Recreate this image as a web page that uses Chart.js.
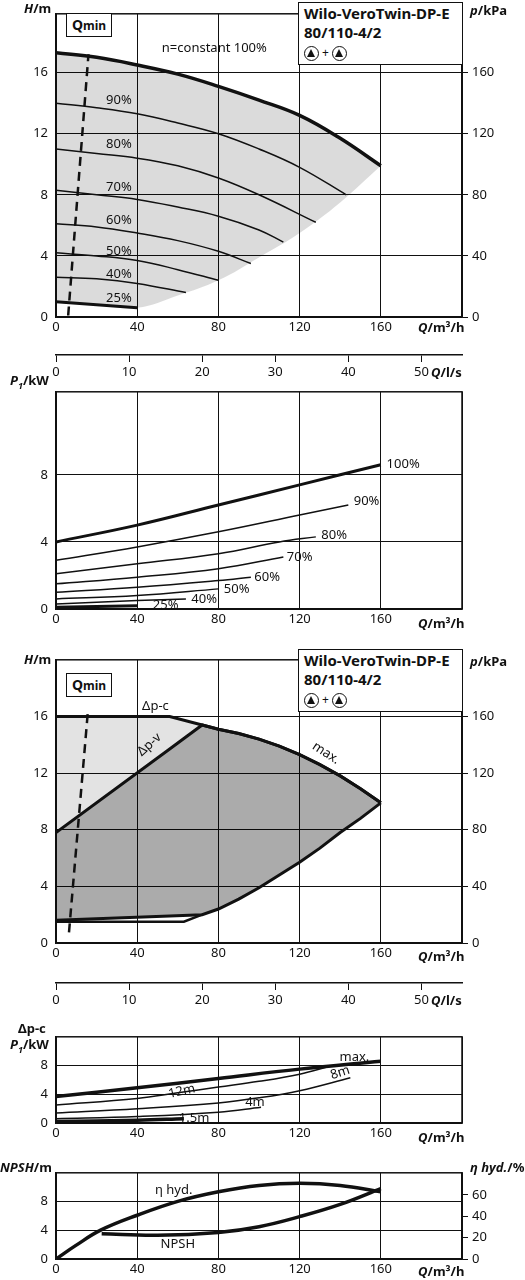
<!DOCTYPE html>
<html><head><meta charset="utf-8">
<script src="https://cdn.jsdelivr.net/npm/chart.js@4.4.1/dist/chart.umd.min.js"></script>
<style>
body{margin:0;width:525px;height:1280px;background:#fff;font-family:"Noto Sans",sans-serif;color:#111;position:relative;overflow:hidden}
canvas{position:absolute;left:0}
.t{position:absolute;font-size:13px;white-space:nowrap}
.b{font-weight:bold}
.box{position:absolute;background:#fff;border:1.5px solid #111;box-sizing:border-box}
.tb{left:298px;width:165px;height:63px;padding:1px 0 0 5px;font-weight:bold;font-size:15px;line-height:19px}
.q{width:46px;height:24px;font-size:14px;font-weight:bold;text-align:center;line-height:22px}
.ico{display:inline-block;width:13px;height:13px;border:1px solid #111;border-radius:50%;position:relative;vertical-align:middle}
.ico:after{content:"";position:absolute;left:2px;top:2px;border-left:4.5px solid transparent;border-right:4.5px solid transparent;border-bottom:8px solid #111}
</style></head><body>
<canvas id="c1" style="top:-2px" width="525" height="344"></canvas>
<canvas id="a1" style="top:340px" width="525" height="45"></canvas>
<canvas id="c2" style="top:376px" width="525" height="258"></canvas>
<canvas id="c3" style="top:644px" width="525" height="324"></canvas>
<canvas id="a2" style="top:968px" width="525" height="45"></canvas>
<canvas id="c4" style="top:1021px" width="525" height="127"></canvas>
<canvas id="c5" style="top:1157px" width="525" height="127"></canvas>

<div class="box tb" style="top:2px">Wilo-VeroTwin-DP-E<br>80/110-4/2<br><span style="font-size:12px;font-weight:normal"><span class="ico"></span> + <span class="ico"></span></span></div>
<div class="box q" style="left:66px;top:13px">Q<span style="font-size:12px">min</span></div>
<div class="box tb" style="top:649px">Wilo-VeroTwin-DP-E<br>80/110-4/2<br><span style="font-size:12px;font-weight:normal"><span class="ico"></span> + <span class="ico"></span></span></div>
<div class="box q" style="left:66px;top:673px">Q<span style="font-size:12px">min</span></div>

<div class="t b" style="left:24px;top:-1px"><i>H</i>/m</div>
<div class="t b" style="left:470px;top:1px"><i>p</i>/kPa</div>
<div class="t b" style="left:418px;top:318px"><i>Q</i>/m³/h</div>
<div class="t b" style="left:431px;top:363px"><i>Q</i>/l/s</div>
<div class="t b" style="left:10px;top:371px"><i>P<sub style="font-size:9px">1</sub></i>/kW</div>
<div class="t b" style="left:418px;top:614px"><i>Q</i>/m³/h</div>
<div class="t b" style="left:24px;top:650px"><i>H</i>/m</div>
<div class="t b" style="left:470px;top:652px"><i>p</i>/kPa</div>
<div class="t b" style="left:418px;top:947px"><i>Q</i>/m³/h</div>
<div class="t b" style="left:431px;top:991px"><i>Q</i>/l/s</div>
<div class="t b" style="left:18px;top:1019px">Δp-c</div>
<div class="t b" style="left:10px;top:1035px"><i>P<sub style="font-size:9px">1</sub></i>/kW</div>
<div class="t b" style="left:418px;top:1128px"><i>Q</i>/m³/h</div>
<div class="t b" style="left:0px;top:1158px"><i>NPSH</i>/m</div>
<div class="t b" style="left:470px;top:1158px"><i>η hyd.</i>/%</div>
<div class="t b" style="left:418px;top:1262px"><i>Q</i>/m³/h</div>

<script>
// ---------- DATA ----------
const qTicks = [0, 40, 80, 120, 160];
const h100 = [[0,17.3],[20,17.0],[40,16.5],[60,15.9],[80,15.1],[100,14.2],[120,13.2],[140,11.7],[160,9.9]];
const h90 = [[0,14.0],[20,13.7],[40,13.3],[60,12.7],[80,12.0],[100,11.0],[120,9.8],[143,8.0]];
const h80 = [[0,11.0],[20,10.7],[40,10.4],[60,9.9],[80,9.1],[100,8.0],[128,6.2]];
const h70 = [[0,8.3],[20,8.0],[40,7.7],[60,7.2],[80,6.6],[100,5.7],[112,4.9]];
const h60 = [[0,6.1],[20,5.9],[40,5.5],[60,5.0],[80,4.3],[96,3.5]];
const h50 = [[0,4.2],[20,4.0],[40,3.7],[60,3.1],[80,2.4]];
const h40 = [[0,2.6],[20,2.5],[40,2.2],[64,1.6]];
const h25 = [[0,1.0],[20,0.8],[40,0.6]];
const hEnvLow = [[0,1.0],[20,0.8],[40,0.6],[60,1.4],[80,2.4],[100,3.9],[120,5.5],[140,7.5],[160,9.9]];
const qmin1 = [[6,0.1],[16,17.2]];

const p100 = [[0,4.0],[40,5.0],[80,6.2],[120,7.4],[160,8.6]];
const p90 = [[0,2.9],[40,3.7],[80,4.6],[120,5.6],[144,6.2]];
const p80 = [[0,2.1],[40,2.7],[80,3.3],[110,4.0],[128,4.3]];
const p70 = [[0,1.5],[40,1.9],[80,2.4],[112,3.1]];
const p60 = [[0,1.0],[40,1.3],[80,1.7],[96,1.9]];
const p50 = [[0,0.6],[40,0.8],[80,1.2]];
const p40 = [[0,0.3],[40,0.5],[64,0.6]];
const p25 = [[0,0.1],[40,0.2]];

const hTop = [[0,16],[56,16],[72,15.4],[80,15.1],[90,14.8],[100,14.4],[110,13.9],[120,13.3],[130,12.6],[140,11.8],[150,10.9],[160,9.9]];
const hDpv = [[0,7.8],[56,13.7],[72,15.4],[80,15.1],[90,14.8],[100,14.4],[110,13.9],[120,13.3],[130,12.6],[140,11.8],[150,10.9],[160,9.9]];
const hLow = [[0,1.6],[56,1.9],[72,2.0],[80,2.4],[90,3.1],[100,3.9],[110,4.8],[120,5.7],[130,6.7],[140,7.8],[150,8.8],[160,9.9]];
const hMin = [[0,1.5],[63,1.5],[72,2.0]];
const qmin2 = [[6.4,0.75],[15.8,16.5]];

const dMax = [[0,3.7],[40,4.9],[80,6.2],[120,7.5],[160,8.6]];
const d12 = [[0,2.5],[40,3.4],[60,4.2],[80,5.0],[100,5.8],[120,6.8],[135,7.9]];
const d8 = [[0,1.4],[40,2.0],[80,2.8],[100,3.5],[120,4.5],[145,6.3]];
const d4 = [[0,0.6],[40,0.9],[80,1.5],[101,2.2]];
const d15 = [[0,0.2],[40,0.4],[63,0.6]];

const npsh = [[22.5,3.5],[50,3.3],[80,3.7],[100,4.5],[120,5.9],[140,7.6],[160,9.8]];
const eta = [[0,0],[10,13],[22,27],[40,41],[60,54],[80,63],[100,69],[120,71],[140,69],[160,63]];
const lsTicks = [0, 10, 20, 30, 40, 50];

// ---------- HELPERS ----------
const F = '"Noto Sans", sans-serif';
const pts = a => a.map(([x,y]) => ({x,y}));
function line(a, w, extra) { return Object.assign({data: pts(a), borderColor:'#111', borderWidth:w, pointRadius:0, tension:0.4, cubicInterpolationMode:'default', fill:false}, extra||{}); }
const frame = {id:'frame', afterDatasetsDraw(c){const a=c.chartArea,x=c.ctx;x.save();x.strokeStyle='#111';x.lineWidth=1.5;x.strokeRect(a.left,a.top,a.right-a.left,a.bottom-a.top);x.restore();}};
const txt = {id:'txt', afterDatasetsDraw(c, args, o){const x=c.ctx; (o.items||[]).forEach(it=>{const px=c.scales.x.getPixelForValue(it[1]), py=c.scales.y.getPixelForValue(it[2]); x.save(); x.translate(px,py); x.rotate((it[3]||0)*Math.PI/180); x.font='13px '+F; x.fillStyle='#111'; x.textAlign='center'; x.textBaseline='middle'; x.fillText(it[0],0,0); x.restore();});}};
function xScale(){ return {type:'linear', min:0, max:200, afterBuildTicks(s){s.ticks=qTicks.concat([200]).map(v=>({value:v}));}, afterFit(s){s.height=25;},
  ticks:{color:'#111', font:{size:13,family:F}, padding:2, callback:v=> v===200?'':v}, grid:{color:'#111', lineWidth:1, drawTicks:false}, border:{color:'#111',width:1.5}}; }
function yScale(max, ticks, pos, width){ return {type:'linear', position:pos||'left', min:0, max:max, afterBuildTicks(s){s.ticks=ticks.map(v=>({value:v}));}, afterFit(s){s.width=width||56;},
  ticks:{color:'#111', font:{size:13,family:F}, padding: pos==='right'?4:8}, grid: pos==='right'?{drawOnChartArea:false, color:'#111', tickLength:6}:{color:'#111', lineWidth:1, drawTicks:false}, border:{color:'#111',width:1.5}}; }
function make(id, datasets, scales, items, padRight){
  return new Chart(document.getElementById(id), {type:'line', data:{datasets}, plugins:[frame, txt],
    options:{responsive:false, animation:false, devicePixelRatio:1, layout:{padding:{top:5, right:padRight||0}},
      plugins:{legend:{display:false}, tooltip:{enabled:false}, txt:{items}, filler:{propagate:false, drawTime:'beforeDatasetsDraw'}}, scales}});
}

// ---------- CHART 1 ----------
make('c1', [
  line(h100, 3.5, {fill:{target:1}, backgroundColor:'rgba(0,0,0,0.14)'}),
  line(hEnvLow, 0, {borderColor:'rgba(0,0,0,0)'}),
  line(h90,1.5), line(h80,1.5), line(h70,1.5), line(h60,1.5), line(h50,1.5), line(h40,1.5), line(h25,3),
  line(qmin1, 2.5, {borderDash:[9,6], tension:0, clip:false})
], {x:xScale(), y:yScale(19.85,[0,4,8,12,16]), yr:yScale(198.5,[0,40,80,120,160],'right',63)},
[['n=constant 100%',78,17.6],['90%',31,14.2],['80%',31,11.3],['70%',31,8.5],['60%',31,6.3],['50%',31,4.3],['40%',31,2.8],['25%',31,1.2]]);

// ---------- l/s axes ----------
function lsAxis(id){
  new Chart(document.getElementById(id), {type:'line', data:{datasets:[{data:[]}]},
    options:{responsive:false, animation:false, devicePixelRatio:1, layout:{padding:{top:10, right:63, left:56}},
      plugins:{legend:{display:false}, tooltip:{enabled:false}},
      scales:{x:{type:'linear', min:0, max:200/3.6, afterBuildTicks(s){s.ticks=lsTicks.map(v=>({value:v}));}, afterFit(s){s.height=30;},
        ticks:{color:'#111', font:{size:13,family:F}, padding:2}, grid:{drawOnChartArea:false, color:'#111', tickLength:7}, border:{color:'#111',width:1.5}},
        y:{display:false, min:0, max:1}}}});
}
lsAxis('a1'); lsAxis('a2');

// ---------- CHART 2 ----------
make('c2', [line(p100,3), line(p90,1.5), line(p80,1.5), line(p70,1.5), line(p60,1.5), line(p50,1.5), line(p40,1.5), line(p25,3)],
 {x:xScale(), y:yScale(12.95,[0,4,8])},
 [['100%',171,8.6],['90%',153,6.4],['80%',137,4.4],['70%',120,3.1],['60%',104,1.9],['50%',89,1.2],['40%',73,0.6],['25%',54,0.25]], 63);

// ---------- CHART 3 ----------
make('c3', [
  line(hTop, 3, {fill:{target:1}, backgroundColor:'rgba(0,0,0,0.11)', tension:0}),
  line(hDpv, 3, {fill:{target:2}, backgroundColor:'rgba(0,0,0,0.33)', tension:0}),
  line(hLow, 3, {tension:0}),
  line(hMin, 2.5, {tension:0}),
  line(qmin2, 2.5, {borderDash:[9,6], tension:0, clip:false})
], {x:xScale(), y:yScale(20,[0,4,8,12,16]), yr:yScale(200,[0,40,80,120,160],'right',63)},
[['Δp-c',49,16.7],['Δp-v',46,14.0,-42],['max.',133,13.4,33]]);

// ---------- CHART 4 ----------
make('c4', [line(dMax,3.5), line(d12,1.5), line(d8,1.5), line(d4,1.5), line(d15,3.5)],
 {x:xScale(), y:yScale(12,[0,4,8])},
 [['max.',147,9.2],['8m',140,7.0,-18],['12m',62,4.4,-13],['4m',98,2.9],['1.5m',68,0.6]], 63);

// ---------- CHART 5 ----------
make('c5', [line(npsh,3.5), line(eta,3.5,{yAxisID:'yr'})],
 {x:xScale(), y:yScale(12,[0,4,8]), yr:yScale(80.8,[0,20,40,60],'right',63)},
 [['η hyd.',58,9.6],['NPSH',60,2.0]]);
</script>
</body></html>
